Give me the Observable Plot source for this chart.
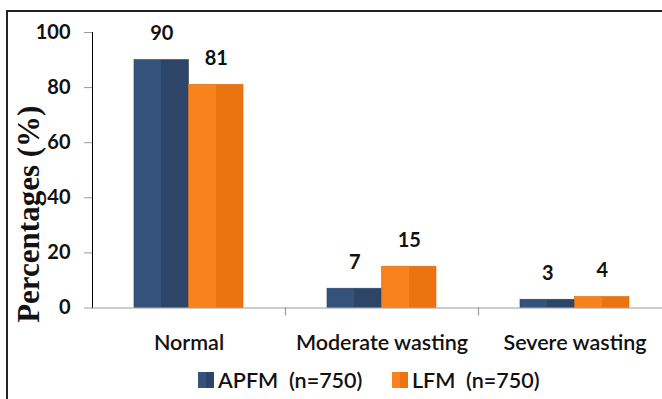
<!DOCTYPE html>
<html>
<head>
<meta charset="utf-8">
<script src="https://cdn.jsdelivr.net/npm/d3@7"></script>
<script src="https://cdn.jsdelivr.net/npm/@observablehq/plot@0.6"></script>
<style>
  html, body { margin: 0; padding: 0; background: #fff; }
  #wrap { position: relative; width: 662px; height: 399px; overflow: hidden; font-family: Lato, "Open Sans", sans-serif; }
  #frame { position: absolute; left: 6px; top: 10px; width: 700px; height: 420px; border: 2px solid #222; box-sizing: border-box; }
  #chart { position: absolute; left: 0; top: 0; }
  #legend { position: absolute; top: 368px; left: 0; width: 662px; height: 24px; font-size: 21.5px; color: #111; white-space: pre; }
  .item { position: absolute; top: 0; display: flex; align-items: center; height: 24px; }
  .sw { width: 16px; height: 16px; margin-right: 4px; }
</style>
</head>
<body>
<div id="wrap">
  <div id="frame"></div>
  <div id="chart"></div>
  <div id="legend"></div>
</div>
<script>
// Wasting status by feeding group (percent of children)
const categories = ["Normal", "Moderate wasting", "Severe wasting"];
const seriesNames = ["APFM  (n=750)", "LFM  (n=750)"];
const apfm = [90, 7, 3];
const lfm = [81, 15, 4];
const yTicks = [0, 20, 40, 60, 80, 100];

const colors = {
  blue: ["#34527a", "#2c4568"],
  orange: ["#f8821b", "#ec7410"]
};

const rows = (vals, s) => categories.map((c, i) => ({category: c, value: vals[i], series: s}));
const dataA = rows(apfm, seriesNames[0]);
const dataL = rows(lfm, seriesNames[1]);

const width = 662, height = 399;
const marginLeft = 92, marginRight = -9;
const band = (width - marginLeft - marginRight) / categories.length;
const barW = 54.5;
const side = (band - 2 * barW) / 2;

// two-tone gradients for the shaded bars
function defs() {
  const d = d3.create("svg:defs");
  for (const [id, stops] of Object.entries(colors)) {
    const g = d.append("linearGradient").attr("id", "g-" + id).attr("x1", 0).attr("x2", 1).attr("y1", 0).attr("y2", 0);
    g.append("stop").attr("offset", "0%").attr("stop-color", stops[0]);
    g.append("stop").attr("offset", "50%").attr("stop-color", stops[0]);
    g.append("stop").attr("offset", "50%").attr("stop-color", stops[1]);
    g.append("stop").attr("offset", "100%").attr("stop-color", stops[1]);
  }
  return d.node();
}

const chart = Plot.plot({
  width, height,
  marginLeft, marginRight,
  marginTop: 32, marginBottom: 91.5,
  style: {fontFamily: "Lato, 'Open Sans', sans-serif", background: "transparent", overflow: "visible"},
  x: {domain: categories, padding: 0, label: null, tickSize: 0, tickPadding: 27},
  y: {domain: [0, 100], ticks: yTicks, label: null, tickSize: 8, tickPadding: 14, line: true},
  marks: [
    defs,
    Plot.barY(dataA, {x: "category", y: "value", fill: "url(#g-blue)", insetLeft: side, insetRight: side + barW, stroke: "#2a4060", strokeWidth: 0.6}),
    Plot.barY(dataL, {x: "category", y: "value", fill: "url(#g-orange)", insetLeft: side + barW, insetRight: side, stroke: "#d56a10", strokeWidth: 0.6}),
    Plot.ruleY([0], {stroke: "#999", strokeWidth: 1.2}),
    Plot.ruleX(categories.slice(1), {x: d => d, y1: 0, y2: 0, dx: -band / 2, insetBottom: -8, stroke: "#999", strokeWidth: 1.2}),
    Plot.text(dataA, {x: "category", y: "value", text: d => String(d.value), dx: -barW / 2, dy: -26, fontSize: 20, fontWeight: "bold", fill: "#111"}),
    Plot.text(dataL, {x: "category", y: "value", text: d => String(d.value), dx: barW / 2, dy: -26, fontSize: 20, fontWeight: "bold", fill: "#111"}),
    Plot.text(["Percentages (%)"], {frameAnchor: "left", textAnchor: "middle", rotate: -90, dx: -63, dy: 44, fontSize: 31, fontWeight: "bold", fontFamily: "'Liberation Serif', 'Times New Roman', serif", fill: "#111"})
  ]
});

// axis styling
d3.select(chart).selectAll("[aria-label='y-axis tick'] path, [aria-label='y-axis line'], [aria-label='y-axis tick']").attr("stroke", "#999");
d3.select(chart).selectAll("[aria-label='y-axis tick label']").attr("font-size", 20).attr("font-weight", "bold").attr("fill", "#111");
d3.select(chart).selectAll("[aria-label='x-axis tick label']").attr("font-size", 21.5).attr("font-weight", 600).attr("fill", "#111");
document.getElementById("chart").appendChild(chart);

// legend
const legend = document.getElementById("legend");
const items = [
  {name: seriesNames[0], c: colors.blue, left: 198},
  {name: seriesNames[1], c: colors.orange, left: 392}
];
for (const it of items) {
  const el = document.createElement("div");
  el.className = "item";
  el.style.left = it.left + "px";
  el.innerHTML = `<div class="sw" style="background:linear-gradient(90deg, ${it.c[0]} 50%, ${it.c[1]} 50%)"></div><span style="font-weight:600">${it.name}</span>`;
  legend.appendChild(el);
}
</script>
</body>
</html>
